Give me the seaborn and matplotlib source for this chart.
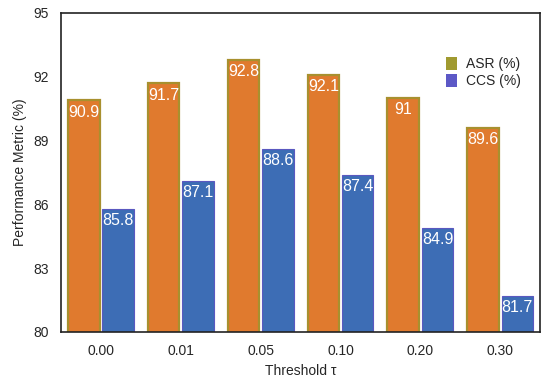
import matplotlib
matplotlib.use("Agg")
import matplotlib.pyplot as plt
from matplotlib.patches import Patch
import seaborn as sns
import pandas as pd

thresholds = ["0.00", "0.01", "0.05", "0.10", "0.20", "0.30"]
asr = [90.9, 91.7, 92.8, 92.1, 91.0, 89.6]
ccs = [85.8, 87.1, 88.6, 87.4, 84.9, 81.7]
series = ["ASR (%)", "CCS (%)"]

df = pd.DataFrame({
    "Threshold": thresholds * 2,
    "Value": asr + ccs,
    "Metric": [series[0]] * len(thresholds) + [series[1]] * len(thresholds),
})

sns.set_style("white")
plt.rcParams["font.family"] = ["Liberation Sans", "DejaVu Sans"]

fig = plt.figure(figsize=(5.5, 3.81), dpi=100)
ax = fig.add_axes([0.111, 0.129, 0.871, 0.837])

bar_colors = {"ASR (%)": "#E07A2E", "CCS (%)": "#3D6DB5"}
sns.barplot(data=df, x="Threshold", y="Value", hue="Metric", palette=bar_colors,
            width=0.86, gap=0.08, ax=ax, legend=False, saturation=1)

edge_styles = [("#A8902E", 1.6), ("#5A58C0", 0.8)]
for cont, (ec, lw) in zip(ax.containers, edge_styles):
    for b in cont:
        b.set_edgecolor(ec)
        b.set_linewidth(lw)
    labels = ["{:g}".format(b.get_height()) for b in cont]
    ax.bar_label(cont, labels=labels, padding=-14, color="white", fontsize=11.5)

ax.set_ylim(80, 95)
ax.set_yticks([80, 83, 86, 89, 92, 95])
ax.set_xlabel("Threshold τ", fontsize=10)
ax.set_ylabel("Performance Metric (%)", fontsize=10)
ax.tick_params(axis="both", labelsize=10, length=0, pad=9)
for s in ax.spines.values():
    s.set_color("#222222")
    s.set_linewidth(1.2)

handles = [Patch(facecolor="#A09A30", edgecolor="none", label=series[0]),
           Patch(facecolor="#5C58C6", edgecolor="none", label=series[1])]
ax.legend(handles=handles, loc="upper right", bbox_to_anchor=(0.985, 0.9),
          frameon=False, fontsize=10, handlelength=0.8, handleheight=1.0,
          handletextpad=0.6, labelspacing=0.2)

fig.savefig("out.png", dpi=100)
